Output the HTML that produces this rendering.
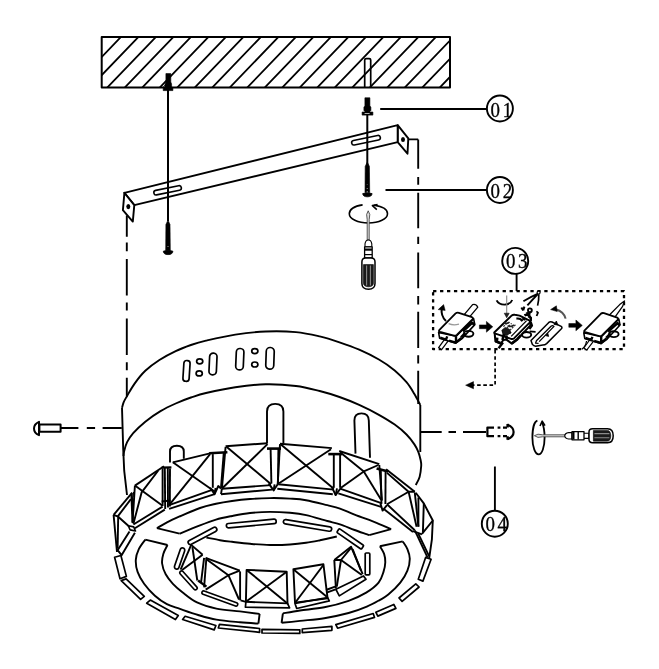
<!DOCTYPE html>
<html><head><meta charset="utf-8"><title>Installation diagram</title>
<style>
html,body{margin:0;padding:0;background:#fff;}
body{width:659px;height:669px;overflow:hidden;font-family:"Liberation Serif",serif;}
svg{display:block;position:absolute;left:0;top:0;will-change:transform;}
text{-webkit-font-smoothing:antialiased;font-smooth:always;}
path,line,ellipse,circle,rect{stroke-linecap:butt;stroke-linejoin:round;}
</style></head>
<body>
<svg width="659" height="669" viewBox="0 0 659 669">
<rect x="0" y="0" width="659" height="669" fill="#fff" stroke="none"/>
<!-- part_top -->
<clipPath id="cl"><rect x="101.7" y="37" width="348.3" height="50.5"/></clipPath>
<path d="M122.8 35L70.4 89.5M140.3 35L87.9 89.5M157.8 35L105.4 89.5M175.3 35L122.9 89.5M192.8 35L140.4 89.5M210.3 35L157.9 89.5M227.8 35L175.4 89.5M245.3 35L192.9 89.5M262.8 35L210.4 89.5M280.3 35L227.9 89.5M297.8 35L245.4 89.5M315.3 35L262.9 89.5M332.8 35L280.4 89.5M350.3 35L297.9 89.5M367.8 35L315.4 89.5M385.3 35L332.9 89.5M402.8 35L350.4 89.5M420.3 35L367.9 89.5M437.8 35L385.4 89.5M455.3 35L402.9 89.5M472.8 35L420.4 89.5M490.3 35L437.9 89.5" stroke="#000" stroke-width="1.8" fill="none" clip-path="url(#cl)"/>
<rect x="101.7" y="37" width="348.3" height="50.5" fill="none" stroke="#000" stroke-width="2"/>
<path d="M364.7 87.4V60Q364.7 58.6 366.2 58.6H369.2Q370.7 58.6 370.7 60V87.4" fill="none" stroke="#000" stroke-width="1.7" />
<path d="M165.9 73.6H170.8V82L171.6 84V87.6H165V84L165.9 82Z" fill="#000" stroke="#000" stroke-width="0.6" />
<path d="M163.2 87.4H172.9V90.6H163.2Z" fill="#000" stroke="#000" stroke-width="0.6" />
<path d="M163.6 86.8L165.4 84.8" fill="none" stroke="#000" stroke-width="1" />
<path d="M168 90L168 221" stroke="#000" stroke-width="2" fill="none" />
<path d="M168 220L170 224.6L170.3 250.4H165.7L165.9 224.6Z" fill="#000" stroke="#000" stroke-width="0.6" />
<path d="M163.3 251.2Q168 249.4 172.9 251.2Q172.6 254.6 168 254.6Q163.6 254.6 163.3 251.2Z" fill="#000" stroke="#000" stroke-width="0.8" />
<path d="M168 226v0.1M168 235v0.1M168 242.4v0.1M168 246.6v0.4" fill="none" stroke="#eee" stroke-width="1.3" stroke-linecap="round"/>
<path d="M124.4 192.8L397.7 125.2V142.2L134.3 205.2Z" fill="#fff" stroke="#000" stroke-width="1.9" />
<path d="M124.4 192.8L122.9 210.2L132.8 221.6L134.3 205.2Z" fill="#fff" stroke="#000" stroke-width="1.9" />
<ellipse cx="128.3" cy="206.6" rx="2" ry="2.6" fill="#000"/>
<path d="M397.9 125.3L408.3 138.3L407.5 153.7L397.9 142.4Z" fill="#fff" stroke="#000" stroke-width="1.9" />
<ellipse cx="403" cy="139.4" rx="2" ry="2.5" fill="#000"/>
<g transform="translate(167.6 190.3) rotate(-11.6)"><rect x="-14" y="-2.3" width="28" height="4.6" rx="2.3" fill="#fff" stroke="#000" stroke-width="1.6"/></g>
<g transform="translate(366 140.2) rotate(-11.6)"><rect x="-14.6" y="-2.3" width="29.2" height="4.6" rx="2.3" fill="#fff" stroke="#000" stroke-width="1.6"/></g>
<path d="M168 150L168 221" stroke="#000" stroke-width="2" fill="none" />
<path d="M364.9 97.8H369.9V106L370.9 107V110.4L369.9 111.4V112.2H364.9V111.4L363.9 110.4V107L364.9 106Z" fill="#000" stroke="#000" stroke-width="0.6" />
<path d="M362.1 112H372.9V115.1H362.1Z" fill="#000" stroke="#000" stroke-width="0.6" />
<path d="M364.6 113.5H369.6" fill="none" stroke="#ddd" stroke-width="0.8" />
<path d="M367.3 115L367.3 170" stroke="#000" stroke-width="2" fill="none" />
<path d="M367.3 162L369.4 166.4L369.7 192.6H365L365.2 166.4Z" fill="#000" stroke="#000" stroke-width="0.6" />
<path d="M362.7 193.6Q367.4 191.8 372.1 193.6Q371.8 196.8 367.4 196.8Q363 196.8 362.7 193.6Z" fill="#000" stroke="#000" stroke-width="0.8" />
<path d="M367.3 167.4v0.1M367.3 177.4v0.1M367.3 184.6v0.1M367.3 188.6v0.4M367.3 191.6v0.6" fill="none" stroke="#eee" stroke-width="1.3" stroke-linecap="round"/>
<path d="M380.2 109L487.5 109" stroke="#000" stroke-width="2" fill="none" />
<path d="M385.5 190L487.5 190" stroke="#000" stroke-width="2" fill="none" />
<circle cx="499.9" cy="108.5" r="13" fill="#fff" stroke="#000" stroke-width="1.9"/>
<text transform="translate(490.6 116.5) scale(0.86 1)" font-size="22" letter-spacing="3.1" text-anchor="start" font-family="Liberation Serif, serif" fill="#000" stroke="#000" stroke-width="0.35" opacity="0.99">01</text>
<circle cx="499.9" cy="190" r="13" fill="#fff" stroke="#000" stroke-width="1.9"/>
<text transform="translate(490.6 198) scale(0.86 1)" font-size="22" letter-spacing="3.1" text-anchor="start" font-family="Liberation Serif, serif" fill="#000" stroke="#000" stroke-width="0.35" opacity="0.99">02</text>
<circle cx="515.2" cy="260.9" r="13" fill="#fff" stroke="#000" stroke-width="1.9"/>
<text transform="translate(505.9 267.9) scale(0.86 1)" font-size="22" letter-spacing="3.1" text-anchor="start" font-family="Liberation Serif, serif" fill="#000" stroke="#000" stroke-width="0.35" opacity="0.99">03</text>
<circle cx="494.8" cy="523.7" r="13" fill="#fff" stroke="#000" stroke-width="1.9"/>
<text transform="translate(485.5 531.3) scale(0.86 1)" font-size="22" letter-spacing="3.1" text-anchor="start" font-family="Liberation Serif, serif" fill="#000" stroke="#000" stroke-width="0.35" opacity="0.99">04</text>
<path d="M126.8 215.5V236.8M126.8 242.6V251.2M126.8 259V295.5M126.8 302.5V310.5M126.8 318.5V355M126.8 362.3V370.2M126.8 377.7V396.2" fill="none" stroke="#000" stroke-width="1.9" />
<path d="M408.3 139.4H418.2M418.2 139.4V168.7M418.2 177.1V184.8M418.2 192.8V228.3M418.2 236.7V244M418.2 252.4V288.3M418.2 295.9V304.5M418.2 311.7V348.1M418.2 355.3V363.6M418.2 370.8V404" fill="none" stroke="#000" stroke-width="1.9" />
<path d="M362.6 204.9C353.6 206 349.3 209.8 349.3 213.7C349.3 218.9 357.8 223 368.4 223C379 223 387.5 218.9 387.5 213.7C387.5 210 383 206.6 374 205.3" fill="none" stroke="#000" stroke-width="1.6" />
<path d="M377.6 204.6L372.4 205.6L376.8 209.6" fill="none" stroke="#000" stroke-width="1.5" />
<path d="M368.2 210.8L369.8 214.5L369.2 219.5V240H367.2V219.5L366.6 214.5Z" fill="#ddd" stroke="#333" stroke-width="0.8" />
<path d="M365 246.8V243.8Q365.6 240 368.4 240Q371.2 240 371.8 243.8V246.8Z" fill="#fff" stroke="#000" stroke-width="1.1" />
<path d="M364.6 246.8h7.6v11.2h-7.6z" fill="#fff" stroke="#000" stroke-width="1.3" />
<path d="M364.8 249.6L372 249.6" stroke="#000" stroke-width="2.2" fill="none" />
<path d="M364.8 254.6L372 254.6" stroke="#000" stroke-width="1.2" fill="none" />
<path d="M361.9 262Q361.9 258 365.6 258H371.2Q375 258 375 262V283.6Q375 289.3 368.5 289.3Q361.9 289.3 361.9 283.6Z" fill="#fff" stroke="#000" stroke-width="1.5" />
<path d="M363.5 264.6H373.4V283.6Q373.2 286.6 368.5 286.8Q363.7 286.6 363.5 283.6Z" fill="#1a1a1a" stroke="#000" stroke-width="0.6" />
<path d="M366.6 265.6V285.4M370.4 265.6V285.4" fill="none" stroke="#8a8a8a" stroke-width="1.1" />
<!-- part_box -->
<rect x="433.1" y="291.2" width="190.9" height="58" fill="none" stroke="#000" stroke-width="2.3" stroke-dasharray="3.3 3.65"/>
<path d="M516.6 273.6L516.6 291" stroke="#000" stroke-width="1.9" fill="none" />
<path d="M495.1 350V385.2H472" fill="none" stroke="#000" stroke-width="1.7" stroke-dasharray="3.6 2.6"/>
<path d="M465.6 385.2L473.5 381.6V388.8Z" fill="#000" stroke="#000" stroke-width="0.5" />
<g transform="translate(0 0)">
<path d="M464.2 314.6L472.6 304.6Q476 303.6 477.8 307.2L469.4 317.2" fill="#fff" stroke="#000" stroke-width="1.3" />
<path d="M444.4 339.6L438.6 347.6L441.6 349.6L448 341.2" fill="#fff" stroke="#000" stroke-width="1.2" />
<path d="M438.6 332.4L439.6 338.2L455.8 343.2L462 338.6L474.8 324.6L473.6 318.6L456.2 336.2Z" fill="#fff" stroke="#000" stroke-width="1.6" />
<path d="M440.2 337.6L446 339.6L447.2 336.4M449 340.6L455.8 342.6L461.4 338M456 336.4V342" fill="none" stroke="#000" stroke-width="2.4" />
<path d="M462.8 331.2L472.2 322.8L474.6 325M461 337.4L465.4 333" fill="none" stroke="#000" stroke-width="2.6" />
<ellipse cx="468.6" cy="333.8" rx="4.8" ry="2.9" fill="none" stroke="#000" stroke-width="1.9"/>
<path d="M439.2 330.2L455.6 313.4Q457 312.2 458.8 312.8L472 317.2Q473.6 318 472.4 319.4L456.8 335Q455.6 336 454 335.6L440 331.8Q438.4 331.2 439.2 330.2Z" fill="#fff" stroke="#000" stroke-width="1.8" />
</g>
<path d="M448.6 323.6Q453 325.6 459 324.2" fill="none" stroke="#999" stroke-width="1.2" />
<path d="M446 321Q440.6 316 441.8 308" fill="none" stroke="#000" stroke-width="2" />
<path d="M438.2 309.6L443.6 304.6L445.2 310.4Z" fill="#000" stroke="#000" stroke-width="0.5" />
<path d="M479.4 324.9H486.4V321.4L492.8 326.8L486.4 332.2V328.7H479.4Z" fill="#000" stroke="#000" stroke-width="0.5" />
<path d="M568.8 323.5H575.9V320L582.3 325.4L575.9 330.8V327.3H568.8Z" fill="#000" stroke="#000" stroke-width="0.5" />
<g transform="translate(145.2 0.4)">
<path d="M464.2 314.6L474.5 304.2L479.3 300.5L477.4 306L469.4 317.2" fill="#fff" stroke="#000" stroke-width="1.3" />
<path d="M444.4 339.6L438.6 347.6L441.6 349.6L448 341.2" fill="#fff" stroke="#000" stroke-width="1.2" />
<path d="M438.6 332.4L439.6 338.2L455.8 343.2L462 338.6L474.8 324.6L473.6 318.6L456.2 336.2Z" fill="#fff" stroke="#000" stroke-width="1.6" />
<path d="M440.2 337.6L446 339.6L447.2 336.4M449 340.6L455.8 342.6L461.4 338M456 336.4V342" fill="none" stroke="#000" stroke-width="2.4" />
<path d="M462.8 331.2L472.2 322.8L474.6 325M461 337.4L465.4 333" fill="none" stroke="#000" stroke-width="2.6" />
<ellipse cx="468.6" cy="333.8" rx="4.8" ry="2.9" fill="none" stroke="#000" stroke-width="1.9"/>
<path d="M439.2 330.2L455.6 313.4Q457 312.2 458.8 312.8L472 317.2Q473.6 318 472.4 319.4L456.8 335Q455.6 336 454 335.6L440 331.8Q438.4 331.2 439.2 330.2Z" fill="#fff" stroke="#000" stroke-width="1.8" />
</g>
<path d="M586.6 341Q585.6 346.6 581.6 349.4" fill="none" stroke="#000" stroke-width="1.3" />
<path d="M494.6 332.4L495.4 341.4L500.6 343.6L503.4 340L506.4 339.6L511.8 343.6L517.2 339.4L530.4 325.4L529.9 321.2" fill="#fff" stroke="#000" stroke-width="2" stroke-linejoin="round"/>
<path d="M494.5 332.2L511.8 315.4Q513 314.4 514.8 314.8L519.6 315.6L529.6 320.6Q530.6 321.4 529.6 322.6L514 338.4Q512.6 339.4 511 338.8L495.4 333.6Q493.8 333 494.5 332.2Z" fill="#fff" stroke="#000" stroke-width="1.9" />
<path d="M511.2 336.4L526.6 320.6" fill="none" stroke="#000" stroke-width="1.3" />
<path d="M503.4 326.6L507.4 322.6M506.6 328.4L511.6 323.4M509.8 330.4L515.6 324.6" fill="none" stroke="#333" stroke-width="1.3" stroke-dasharray="2 1"/>
<path d="M516.4 318.6Q520.6 318 522.4 321.2" fill="none" stroke="#000" stroke-width="2.2" />
<path d="M502.4 331.6Q505.6 329.6 507.6 332.6Q505.8 335.4 503.6 334.6M508.4 331L510.8 333.4" fill="none" stroke="#000" stroke-width="2.3" />
<circle cx="504.6" cy="331.6" r="1.5" fill="none" stroke="#000" stroke-width="1.5"/>
<path d="M503.8 334L502.4 340M506.6 336V339.6" fill="none" stroke="#000" stroke-width="2.4" />
<path d="M495.6 341.2L500.4 343M497.2 337.6L496.8 342.6" fill="none" stroke="#000" stroke-width="2.6" />
<path d="M511.8 343.4L517.4 339.2L521 335.2" fill="none" stroke="#000" stroke-width="2.6" />
<path d="M501.8 330.2L505.2 327.4L509.4 329.2L510.6 332.6L507 335.6L503 334.4Z" fill="#1a1a1a" stroke="#000" stroke-width="0.6" />
<path d="M503.6 322.6Q506 324.6 509.6 322.2M507.6 325.6Q510.6 327.6 514 325" fill="none" stroke="#222" stroke-width="1.6" />
<path d="M524.4 315.4Q527.4 313.6 529.8 316.4Q531.6 318.4 530.8 321" fill="none" stroke="#000" stroke-width="2.4" />
<path d="M522.2 318.4L525.4 319.8" fill="none" stroke="#000" stroke-width="2.2" />
<ellipse cx="526.6" cy="334.8" rx="4.6" ry="2.8" fill="none" stroke="#000" stroke-width="1.9"/>
<path d="M529.6 331.4L535.6 331.8" fill="none" stroke="#000" stroke-width="1.8" />
<path d="M503 342.6L498.6 348.2" fill="none" stroke="#000" stroke-width="2.4" />
<circle cx="529.9" cy="310.3" r="1.9" fill="#fff" stroke="#000" stroke-width="1.9"/>
<path d="M521.4 307.4L523.2 310.4M524.4 306.6L523.2 310.4" fill="none" stroke="#000" stroke-width="2" />
<path d="M526.2 313.4Q528.6 312.4 530.2 314.6M528.4 316.4L531.4 318.4" fill="none" stroke="#000" stroke-width="2.2" />
<path d="M536.4 311.4L538 312.6L536.6 316" fill="none" stroke="#000" stroke-width="1.8" />
<path d="M530.6 321.6L532 325.6L529.4 329" fill="none" stroke="#000" stroke-width="2.2" />
<path d="M496.6 300.4Q498.6 304.6 504.6 304.6Q510.6 304.4 512.2 300" fill="none" stroke="#000" stroke-width="1.9" />
<path d="M506.7 295.6V314" fill="none" stroke="#888" stroke-width="1.1" />
<path d="M504.2 313.2L506.7 317.8L509.2 313.2Z" fill="#222" stroke="#000" stroke-width="0.5" />
<circle cx="538.6" cy="292.6" r="1.5" fill="#fff" stroke="#000" stroke-width="1.2"/>
<path d="M537.6 293.8Q531 296.6 523.4 301.2M537.8 294.2Q532.6 299.6 527.4 305.4" fill="none" stroke="#000" stroke-width="1.9" />
<path d="M538.8 294.2Q539 299.6 537.6 305.6" fill="none" stroke="#000" stroke-width="1.7" />
<path d="M531 340.6L548.8 322.4Q550.2 321.2 552 322L561.2 326.4Q562.6 327.4 561.4 328.8L546.6 343.6Q545 345 542.8 345L535.6 346.2Q533.6 346 532.4 344.4Z" fill="#fff" stroke="#000" stroke-width="1.5" />
<path d="M536.4 340.8L551 326.2Q552.6 325 554 326.4L539.2 341.6M536.4 340.8L535.6 343.2L538.6 343.4" fill="none" stroke="#000" stroke-width="1.3" />
<path d="M545.6 335.6l2.2-2.4l0.8 3.2zM556.4 321l1.4 4l-3.8-0.6z" fill="#000" stroke="#000" stroke-width="0.8" />
<path d="M565.6 318.6Q564 311.6 555.6 309.2" fill="none" stroke="#555" stroke-width="2" />
<path d="M550.6 309.6L556.4 305.8L557.2 311.6Z" fill="#000" stroke="#000" stroke-width="0.5" />
<!-- part_lamp -->
<path d="M122 407.8C122.3 406.9 122.8 404.4 123.6 402.4C124.4 400.4 125.3 399 127.1 395.9C128.9 392.8 131.6 387.8 134.6 383.6C137.6 379.4 141.2 374.7 145.3 370.8C149.4 366.9 154.3 363.3 159.4 360C164.5 356.7 170.4 353.6 175.7 351.1C180.9 348.6 185.8 346.8 190.9 345C196 343.2 198.6 342.3 206 340.6C213.4 338.9 225.4 336.1 235.3 334.6C245.2 333.1 255.6 331.9 265.7 331.5C275.8 331.1 287 331.3 296 332.1C305 332.9 312.4 334.7 319.7 336.4C326.9 338.1 332.9 340.1 339.5 342.3C346.1 344.5 352.6 346.8 359.2 349.7C365.8 352.6 373 356.1 378.9 359.5C384.8 362.9 390.1 366.6 394.7 370.4C399.3 374.2 403.2 378.3 406.5 382.2C409.8 386.1 412.1 390.2 414.4 394C416.7 397.8 419.3 403.1 420.3 404.9" fill="none" stroke="#000" stroke-width="1.9" />
<path d="M123.5 456C123.6 455.2 123.6 453.3 124.2 451C124.8 448.7 125.6 445.2 127.1 442.2C128.6 439.2 130.2 436.5 133.2 433.1C136.2 429.7 140.8 425.4 145.3 421.7C149.9 418 155.4 414.1 160.5 411.1C165.6 408.1 170.6 405.8 175.7 403.5C180.8 401.2 185.8 399.2 190.9 397.5C196 395.8 198.6 394.7 206 393C213.4 391.3 225.4 388.6 235.3 387.2C245.2 385.8 255.6 384.5 265.7 384.3C275.8 384.1 287 384.9 296 386C305 387.1 312.4 389.2 319.7 391C326.9 392.8 332.9 394.7 339.5 397C346.1 399.3 352.6 401.9 359.2 404.9C365.8 407.9 373 411.5 378.9 414.8C384.8 418.1 390.1 421.3 394.7 424.6C399.3 427.9 403.2 431.2 406.5 434.5C409.8 437.8 412.4 441.4 414.4 444.4C416.4 447.3 417.4 449.6 418.4 452.2C419.4 454.8 420.1 457.7 420.6 460C421.1 462.3 421.4 463.2 421.2 466C421 468.8 420.5 473.8 419.6 477C418.7 480.2 416.4 483.7 415.7 485" fill="none" stroke="#000" stroke-width="1.9" />
<path d="M122 407.8L123.2 449L124.2 470.7L127 495" fill="none" stroke="#000" stroke-width="1.9" />
<path d="M420.3 404.9V452" fill="none" stroke="#000" stroke-width="1.9" />
<g transform="translate(186.5 370.9) rotate(3.6)"><rect x="-3.1" y="-10.4" width="6.2" height="20.8" rx="2.9" fill="#fff" stroke="#000" stroke-width="1.7"/></g>
<g transform="translate(213 364) rotate(2.5)"><rect x="-3.7" y="-10.9" width="7.4" height="21.8" rx="3.5" fill="#fff" stroke="#000" stroke-width="1.7"/></g>
<g transform="translate(239.8 359.2) rotate(2.5)"><rect x="-3.8" y="-10.7" width="7.6" height="21.4" rx="3.6" fill="#fff" stroke="#000" stroke-width="1.7"/></g>
<g transform="translate(270 358.3) rotate(2)"><rect x="-4" y="-10.8" width="8" height="21.6" rx="3.8" fill="#fff" stroke="#000" stroke-width="1.7"/></g>
<ellipse cx="199.7" cy="361.3" rx="3.1" ry="2.5" fill="#fff" stroke="#000" stroke-width="1.7"/>
<ellipse cx="199.2" cy="373.4" rx="3.1" ry="2.5" fill="#fff" stroke="#000" stroke-width="1.7"/>
<ellipse cx="254.8" cy="351.1" rx="3.1" ry="2.5" fill="#fff" stroke="#000" stroke-width="1.7"/>
<ellipse cx="254.8" cy="364.5" rx="3.1" ry="2.5" fill="#fff" stroke="#000" stroke-width="1.7"/>
<path d="M170 462.5V451.5Q170 445.7 176.9 445.7Q183.8 445.7 183.8 451.5V458.8" fill="none" stroke="#000" stroke-width="1.9" />
<path d="M267 443.2V411.5Q267 403.9 275.2 403.9Q283.4 403.9 283.4 411.5V443.2" fill="none" stroke="#000" stroke-width="1.9" />
<path d="M355.5 453.6L354.4 420.5Q354.4 413.4 361.5 413.4Q368.6 413.4 368.8 420.5L370 457.8" fill="none" stroke="#000" stroke-width="1.9" />
<path d="M113.6 514.9L132.2 492.6" fill="none" stroke="#000" stroke-width="1.9" stroke-linejoin="round"/>
<path d="M117.8 516.3L130.9 499.2" fill="none" stroke="#000" stroke-width="1.9" stroke-linejoin="round"/>
<path d="M113.6 514.9L117 552" fill="none" stroke="#000" stroke-width="1.9" stroke-linejoin="round"/>
<path d="M113.6 514.9L118.2 516.7L128.9 526.3" fill="none" stroke="#000" stroke-width="1.9" stroke-linejoin="round"/>
<path d="M118.2 516.7L117.6 548.4" fill="none" stroke="#000" stroke-width="1.9" stroke-linejoin="round"/>
<path d="M129.5 531.4L117.6 550.2L121.6 555.2L134.9 532.8" fill="none" stroke="#000" stroke-width="1.9" stroke-linejoin="round"/>
<path d="M128.3 525.7L133.7 526.9L135.5 531L130.1 529.9Z" fill="#fff" stroke="#000" stroke-width="1.6" />
<path d="M131.6 493.4L132.7 522.3" fill="none" stroke="#000" stroke-width="2.4" stroke-linejoin="round"/>
<path d="M133.6 492L134.2 497" fill="none" stroke="#000" stroke-width="1.5" stroke-linejoin="round"/>
<path d="M134.9 485.6L164 466.2" fill="none" stroke="#000" stroke-width="1.9" stroke-linejoin="round"/>
<path d="M134.9 485.6L162.6 505.8" fill="none" stroke="#000" stroke-width="1.9" stroke-linejoin="round"/>
<path d="M158.1 470.7L141.6 492.4L133.4 523.8" fill="none" stroke="#000" stroke-width="1.9" stroke-linejoin="round"/>
<path d="M134.9 485.6L132.5 523" fill="none" stroke="#000" stroke-width="1.9" stroke-linejoin="round"/>
<path d="M133.4 524.5L162.6 506.6" fill="none" stroke="#000" stroke-width="1.9" stroke-linejoin="round"/>
<path d="M134.9 528.2L164.8 509.6" fill="none" stroke="#000" stroke-width="1.9" stroke-linejoin="round"/>
<path d="M162.6 468.5L162.6 506" fill="none" stroke="#000" stroke-width="1.9" stroke-linejoin="round"/>
<path d="M164.8 467.4L165.2 509" fill="none" stroke="#000" stroke-width="1.9" stroke-linejoin="round"/>
<path d="M167.8 467.4L168 507.5" fill="none" stroke="#000" stroke-width="1.9" stroke-linejoin="round"/>
<path d="M170 468.5L169.8 506.5" fill="none" stroke="#000" stroke-width="1.9" stroke-linejoin="round"/>
<path d="M161.6 467.6L171.4 467.4" fill="none" stroke="#000" stroke-width="2.2" stroke-linejoin="round"/>
<path d="M161.6 501.6L170.6 500.6" fill="none" stroke="#000" stroke-width="2" stroke-linejoin="round"/>
<path d="M172.8 462.3L211 453.2" fill="none" stroke="#000" stroke-width="1.9" stroke-linejoin="round"/>
<path d="M172.8 462.3L214.6 491.5" fill="none" stroke="#000" stroke-width="1.9" stroke-linejoin="round"/>
<path d="M210.1 454.1L169.1 505.1" fill="none" stroke="#000" stroke-width="1.9" stroke-linejoin="round"/>
<path d="M169.1 505.1L212.8 489.6" fill="none" stroke="#000" stroke-width="1.9" stroke-linejoin="round"/>
<path d="M169.1 508.8L214.6 494.2" fill="none" stroke="#000" stroke-width="1.9" stroke-linejoin="round"/>
<path d="M212.8 454.1L212.8 487.8" fill="none" stroke="#000" stroke-width="1.9" stroke-linejoin="round"/>
<path d="M223.8 452.3L221 487.8" fill="none" stroke="#000" stroke-width="1.9" stroke-linejoin="round"/>
<path d="M209.2 453.2L227.4 452.3" fill="none" stroke="#000" stroke-width="2.6" stroke-linejoin="round"/>
<path d="M210.1 487.8L214.6 494.2L218.3 486L221 488.6" fill="none" stroke="#000" stroke-width="1.9" stroke-linejoin="round"/>
<path d="M214.6 494.2L215.6 488" fill="none" stroke="#000" stroke-width="1.9" stroke-linejoin="round"/>
<path d="M225.6 446.3L267.5 443.2" fill="none" stroke="#000" stroke-width="1.9" stroke-linejoin="round"/>
<path d="M226.5 446.8L271.1 484.2" fill="none" stroke="#000" stroke-width="1.9" stroke-linejoin="round"/>
<path d="M267.5 444.1L222.8 487.8" fill="none" stroke="#000" stroke-width="1.9" stroke-linejoin="round"/>
<path d="M225.6 446.8L221.9 488.7" fill="none" stroke="#000" stroke-width="1.9" stroke-linejoin="round"/>
<path d="M221.9 488.7L271.1 485.1" fill="none" stroke="#000" stroke-width="1.9" stroke-linejoin="round"/>
<path d="M221 494.2L272 489.6" fill="none" stroke="#000" stroke-width="1.9" stroke-linejoin="round"/>
<path d="M221.9 488.7L221 494.2" fill="none" stroke="#000" stroke-width="1.9" stroke-linejoin="round"/>
<path d="M270.6 448.7L271.4 483.5" fill="none" stroke="#000" stroke-width="1.9" stroke-linejoin="round"/>
<path d="M278.4 448.7L278 484" fill="none" stroke="#000" stroke-width="1.9" stroke-linejoin="round"/>
<path d="M267 448.6L281 448.6" fill="none" stroke="#000" stroke-width="2.6" stroke-linejoin="round"/>
<path d="M268.6 483.4L273.6 490.4L278.2 483.4" fill="none" stroke="#000" stroke-width="1.9" stroke-linejoin="round"/>
<path d="M273.6 490.4L274.6 484.4" fill="none" stroke="#000" stroke-width="1.9" stroke-linejoin="round"/>
<path d="M280 443.7L331.9 448.1" fill="none" stroke="#000" stroke-width="1.9" stroke-linejoin="round"/>
<path d="M280.9 444.5L333.8 488.7" fill="none" stroke="#000" stroke-width="1.9" stroke-linejoin="round"/>
<path d="M331 449.2L279.1 483.3" fill="none" stroke="#000" stroke-width="1.9" stroke-linejoin="round"/>
<path d="M280 444.1L277.7 484.2" fill="none" stroke="#000" stroke-width="1.9" stroke-linejoin="round"/>
<path d="M278.2 484.2L333.8 489.6" fill="none" stroke="#000" stroke-width="1.9" stroke-linejoin="round"/>
<path d="M277.3 488.7L332.8 494.2" fill="none" stroke="#000" stroke-width="1.9" stroke-linejoin="round"/>
<path d="M333.8 454.1L333.8 487.8" fill="none" stroke="#000" stroke-width="1.9" stroke-linejoin="round"/>
<path d="M340.1 454.1L340.1 487.8" fill="none" stroke="#000" stroke-width="1.9" stroke-linejoin="round"/>
<path d="M328.3 454.1L342 454.1" fill="none" stroke="#000" stroke-width="2.6" stroke-linejoin="round"/>
<path d="M331.9 487L335.6 495.1L341 487.8" fill="none" stroke="#000" stroke-width="1.9" stroke-linejoin="round"/>
<path d="M335.6 495.1L337 488.4" fill="none" stroke="#000" stroke-width="1.9" stroke-linejoin="round"/>
<path d="M339.2 451L379.3 464.1" fill="none" stroke="#000" stroke-width="1.9" stroke-linejoin="round"/>
<path d="M340.1 452.3L363.8 471.4L378.4 465" fill="none" stroke="#000" stroke-width="1.9" stroke-linejoin="round"/>
<path d="M363.8 471.4L381.1 499.7" fill="none" stroke="#000" stroke-width="1.9" stroke-linejoin="round"/>
<path d="M363.8 471.4L341 487.8" fill="none" stroke="#000" stroke-width="1.9" stroke-linejoin="round"/>
<path d="M379.3 465L382 500.6" fill="none" stroke="#000" stroke-width="1.9" stroke-linejoin="round"/>
<path d="M340.1 488.7L382 503.3" fill="none" stroke="#000" stroke-width="1.9" stroke-linejoin="round"/>
<path d="M338.3 493.3L381.1 506.9" fill="none" stroke="#000" stroke-width="1.9" stroke-linejoin="round"/>
<path d="M380.8 469.3L381.4 504" fill="none" stroke="#000" stroke-width="1.9" stroke-linejoin="round"/>
<path d="M385.6 470.5L385.4 504" fill="none" stroke="#000" stroke-width="1.9" stroke-linejoin="round"/>
<path d="M376.6 468.4L388.2 471.4" fill="none" stroke="#000" stroke-width="2.6" stroke-linejoin="round"/>
<path d="M380.4 503.4L382.6 510.6L387 505.2" fill="none" stroke="#000" stroke-width="1.9" stroke-linejoin="round"/>
<path d="M386.1 469.3L414.8 491.8" fill="none" stroke="#000" stroke-width="1.9" stroke-linejoin="round"/>
<path d="M387 472.9L408.6 491.8L414.8 491.8" fill="none" stroke="#000" stroke-width="1.9" stroke-linejoin="round"/>
<path d="M408.6 491.8L387 504.3" fill="none" stroke="#000" stroke-width="1.9" stroke-linejoin="round"/>
<path d="M408.6 491.8L416.6 526.7" fill="none" stroke="#000" stroke-width="1.9" stroke-linejoin="round"/>
<path d="M414.8 492.7L418.4 526.7" fill="none" stroke="#000" stroke-width="1.9" stroke-linejoin="round"/>
<path d="M387 504.3L414.8 530.3" fill="none" stroke="#000" stroke-width="1.9" stroke-linejoin="round"/>
<path d="M383.5 508.8L413 532.1" fill="none" stroke="#000" stroke-width="1.9" stroke-linejoin="round"/>
<path d="M415.7 492.7L423.8 503.4L432.8 520.5L422 533.9" fill="none" stroke="#000" stroke-width="1.9" stroke-linejoin="round"/>
<path d="M418.4 497.5L418.4 526.7" fill="none" stroke="#000" stroke-width="1.9" stroke-linejoin="round"/>
<path d="M423.8 503.4L422.9 532.1" fill="none" stroke="#000" stroke-width="1.9" stroke-linejoin="round"/>
<path d="M432.8 520.5L431.9 539.3L429.2 558.2" fill="none" stroke="#000" stroke-width="1.9" stroke-linejoin="round"/>
<path d="M414.8 530.3L427.4 557.2" fill="none" stroke="#000" stroke-width="1.9" stroke-linejoin="round"/>
<path d="M418.4 533.9L429.2 556.4" fill="none" stroke="#000" stroke-width="1.9" stroke-linejoin="round"/>
<path d="M413 531.2L422 534.4" fill="none" stroke="#000" stroke-width="1.9" stroke-linejoin="round"/>
<path d="M156.9 528.2C158.6 527.2 163.2 524.3 167 522.3C170.8 520.3 174.1 518.8 179.6 516.4C185.1 514 193.9 510.1 200 508C206.1 505.9 210.7 505 216 503.8C221.3 502.6 226.3 501.8 232 501C237.7 500.2 243.7 499.5 250 499C256.3 498.5 263.3 498.2 270 498.1C276.7 498 284 498.2 290 498.6C296 499 299.8 499.1 306 500.2C312.2 501.3 321.6 503.8 327.3 505.2C333 506.6 335.4 507 340 508.6C344.6 510.2 348.5 512.2 354.6 514.6C360.7 517 370.4 520.4 376.5 522.8C382.6 525.2 388.7 528.1 391.1 529.2" fill="none" stroke="#000" stroke-width="1.9" />
<path d="M369.2 535.2C366.8 534.3 359.5 531.8 354.6 530C349.7 528.2 344.6 525.9 340 524.4C335.4 522.9 332.9 522.5 327.3 521C321.7 519.5 312.4 516.5 306.2 515.1C300 513.7 296 513.3 290 512.8C284 512.3 276.8 511.9 270.1 511.9C263.4 511.9 256.4 512.3 250 513C243.7 513.7 237.7 514.9 232 516C226.3 517.1 221.3 518 216 519.6C210.7 521.2 206.1 523 200 525.4C193.9 527.8 183 532.3 179.6 533.7" fill="none" stroke="#000" stroke-width="1.9" />
<path d="M391.1 529.2L369.2 535.2" fill="none" stroke="#000" stroke-width="1.9" stroke-linejoin="round"/>
<path d="M156.9 528.2L179.6 533.7" fill="none" stroke="#000" stroke-width="1.9" stroke-linejoin="round"/>
<path d="M206.4 537.6C208.7 538 215.7 539.5 220 540.2C224.3 540.9 227 541.2 232 541.8C237 542.4 243.7 543.3 250 543.8C256.3 544.3 263.3 544.9 270 545C276.7 545.1 284 544.9 290 544.5C296 544.1 301 543.5 306 542.8C311 542.1 314.9 541.3 320 540.3C325.1 539.2 334 537.1 336.8 536.5" fill="none" stroke="#000" stroke-width="1.9" />
<g transform="translate(188.4 543.4) rotate(-28.01)"><rect x="0" y="-2.2" width="31.9" height="4.4" rx="2.2" fill="#fff" stroke="#000" stroke-width="1.7"/></g>
<g transform="translate(226.4 525.9) rotate(-5.39)"><rect x="0" y="-2.2" width="50" height="4.4" rx="2.2" fill="#fff" stroke="#000" stroke-width="1.7"/></g>
<g transform="translate(283.4 521.4) rotate(9.42)"><rect x="0" y="-2.2" width="48.9" height="4.4" rx="2.2" fill="#fff" stroke="#000" stroke-width="1.7"/></g>
<g transform="translate(338 530.4) rotate(34.65)"><rect x="0" y="-2.3" width="29.9" height="4.6" rx="1" fill="#fff" stroke="#000" stroke-width="1.7"/></g>
<g transform="translate(183.2 548) rotate(108.92)"><rect x="0" y="-2.3" width="22.2" height="4.6" rx="2.3" fill="#fff" stroke="#000" stroke-width="1.7"/></g>
<g transform="translate(367.5 553) rotate(90.00)"><rect x="0" y="-2.3" width="21.8" height="4.6" rx="1" fill="#fff" stroke="#000" stroke-width="1.7"/></g>
<path d="M145.3 539.6C144.2 541.2 140.4 545.7 138.8 549.1C137.2 552.5 136 556.1 135.8 559.9C135.6 563.7 136.2 567.9 137.6 571.9C139 575.9 141.2 579.8 144.1 583.8C147 587.8 151.1 592.4 154.9 595.8C158.7 599.2 162.7 602 166.9 604.2C171.1 606.4 174.8 607.1 180 608.9C185.2 610.7 192.1 613.2 198.2 615C204.3 616.8 209.4 618.4 216.4 619.6C223.4 620.8 233 621.6 240 622.3C247 623 255.3 623.4 258.4 623.6" fill="none" stroke="#000" stroke-width="1.9" />
<path d="M259.6 613.9C256.3 613.5 247.2 612.3 240 611.4C232.8 610.5 223.6 610.1 216.4 608.6C209.2 607.1 202.7 605.1 197 602.4C191.3 599.7 186.4 595.3 182.4 592.2C178.4 589.1 175.7 586.8 172.9 583.8C170.1 580.8 167.5 577.7 165.7 574.3C163.9 570.9 162.5 566.9 162.1 563.5C161.7 560.1 162.4 557 163.3 553.9C164.2 550.8 166.8 546.5 167.5 545" fill="none" stroke="#000" stroke-width="1.9" />
<path d="M145.3 539.6L167.5 545" fill="none" stroke="#000" stroke-width="1.9" stroke-linejoin="round"/>
<path d="M258.4 623.6L259.6 613.9" fill="none" stroke="#000" stroke-width="1.9" stroke-linejoin="round"/>
<path d="M402.7 541.4C403.5 542.7 406.2 546.2 407.4 549.1C408.6 552 409.8 555.1 409.8 558.7C409.8 562.3 409 566.7 407.4 570.7C405.8 574.7 403.5 578.7 400.3 582.7C397.1 586.7 391.7 591.8 388.3 594.6C384.9 597.5 383.6 597.8 380 599.8C376.4 601.8 372 604.4 366.8 606.6C361.6 608.8 355.7 611.1 348.6 613C341.5 614.9 332.4 616.9 324.3 618.2C316.2 619.5 307.1 620.1 300 620.9C292.9 621.7 284.7 622.5 281.6 622.8" fill="none" stroke="#000" stroke-width="1.9" />
<path d="M282.9 613.4C285.8 612.9 293.1 611.5 300 610.5C306.9 609.5 316.2 608.9 324.3 607.3C332.4 605.7 341.6 603.2 348.6 600.8C355.6 598.3 361.2 595.6 366.2 592.6C371.2 589.6 375.7 586.1 378.6 582.6C381.5 579.1 382.4 575.3 383.5 571.9C384.6 568.5 385.2 565.3 385.3 562.3C385.4 559.3 385 556.6 384.1 553.9C383.2 551.2 380.6 547.5 379.9 546.2" fill="none" stroke="#000" stroke-width="1.9" />
<path d="M402.7 541.4L379.9 546.2" fill="none" stroke="#000" stroke-width="1.9" stroke-linejoin="round"/>
<path d="M281.6 622.8L282.9 613.4" fill="none" stroke="#000" stroke-width="1.9" stroke-linejoin="round"/>
<path d="M114.6 557.3L120.9 555.5L126.4 576.4L120 578.8Z" fill="#fff" stroke="#000" stroke-width="1.7" stroke-linejoin="round"/>
<path d="M121.2 580.6L126.1 578.9L144.3 596.4L140.6 599.3Z" fill="#fff" stroke="#000" stroke-width="1.7" stroke-linejoin="round"/>
<path d="M146.7 603.2L150.3 600.1L178.3 615.4L175.4 619.5Z" fill="#fff" stroke="#000" stroke-width="1.7" stroke-linejoin="round"/>
<path d="M182.6 619.5L185.1 616.3L215.9 625.5L214.2 629.9Z" fill="#fff" stroke="#000" stroke-width="1.7" stroke-linejoin="round"/>
<path d="M218.3 628L219.5 624.3L259.6 628.5L259.6 632.3Z" fill="#fff" stroke="#000" stroke-width="1.7" stroke-linejoin="round"/>
<path d="M262 629.4L299.8 629.8L299.8 633.4L262 633Z" fill="#fff" stroke="#000" stroke-width="1.7" stroke-linejoin="round"/>
<path d="M302.3 629L331.9 626.4L331.9 630.3L302.3 632.6Z" fill="#fff" stroke="#000" stroke-width="1.7" stroke-linejoin="round"/>
<path d="M335.8 624.6L373.2 613.5L374.5 617.4L337.6 628.2Z" fill="#fff" stroke="#000" stroke-width="1.7" stroke-linejoin="round"/>
<path d="M375.8 612.2L393.8 604.5L395.9 608.4L377.8 616.1Z" fill="#fff" stroke="#000" stroke-width="1.7" stroke-linejoin="round"/>
<path d="M399 598L415.8 583.9L419.1 587L402.1 601.4Z" fill="#fff" stroke="#000" stroke-width="1.7" stroke-linejoin="round"/>
<path d="M425.6 557.4L431.1 559.3L422.9 581.1L418.3 579.3Z" fill="#fff" stroke="#000" stroke-width="1.7" stroke-linejoin="round"/>
<path d="M191.2 544.9L202.6 554.7" fill="none" stroke="#000" stroke-width="1.9" stroke-linejoin="round"/>
<path d="M191.2 544.9L180.6 569.6" fill="none" stroke="#000" stroke-width="1.9" stroke-linejoin="round"/>
<path d="M202.6 554.7L182.1 570" fill="none" stroke="#000" stroke-width="1.9" stroke-linejoin="round"/>
<path d="M192.4 547L197.3 580.5" fill="none" stroke="#000" stroke-width="1.9" stroke-linejoin="round"/>
<g transform="translate(180.4 571.4) rotate(48.01)"><rect x="0" y="-1.8" width="24.2" height="3.6" rx="1.8" fill="#fff" stroke="#000" stroke-width="1.6"/></g>
<path d="M204.1 557.8L201.1 582" fill="none" stroke="#000" stroke-width="1.9" stroke-linejoin="round"/>
<path d="M206.4 557.8L204.1 587.4" fill="none" stroke="#000" stroke-width="1.9" stroke-linejoin="round"/>
<path d="M198.1 580.5L206.4 586.6" fill="none" stroke="#000" stroke-width="2.4" stroke-linejoin="round"/>
<path d="M205.7 557.8L239.8 570.7" fill="none" stroke="#000" stroke-width="1.9" stroke-linejoin="round"/>
<path d="M206.4 559.3L228.4 575.2L239.8 570.7" fill="none" stroke="#000" stroke-width="1.9" stroke-linejoin="round"/>
<path d="M228.4 575.2L239 599.5" fill="none" stroke="#000" stroke-width="1.9" stroke-linejoin="round"/>
<path d="M228.4 575.2L205.7 589.6" fill="none" stroke="#000" stroke-width="1.9" stroke-linejoin="round"/>
<path d="M240.1 571.4L240.1 600.3" fill="none" stroke="#000" stroke-width="1.9" stroke-linejoin="round"/>
<g transform="translate(202 592) rotate(19.92)"><rect x="0" y="-1.7" width="37.9" height="3.4" rx="1.7" fill="#fff" stroke="#000" stroke-width="1.6"/></g>
<path d="M240.6 600.3L245.9 601.8" fill="none" stroke="#000" stroke-width="1.9" stroke-linejoin="round"/>
<path d="M246.6 569.9L286.7 571.7L287.5 603.4L245.9 601.8Z" fill="none" stroke="#000" stroke-width="1.9" />
<path d="M246.6 569.9L287.5 603.4" fill="none" stroke="#000" stroke-width="1.9" stroke-linejoin="round"/>
<path d="M286.7 571.7L245.9 601.8" fill="none" stroke="#000" stroke-width="1.9" stroke-linejoin="round"/>
<path d="M245.9 601.8L245.4 607.2L289.6 607.8L287.5 603.4" fill="none" stroke="#000" stroke-width="1.7" stroke-linejoin="round"/>
<path d="M293.4 569.2L323.4 564.2L327.6 598.4L295 602.6Z" fill="none" stroke="#000" stroke-width="1.9" />
<path d="M294.2 570L326.8 596.8" fill="none" stroke="#000" stroke-width="1.9" stroke-linejoin="round"/>
<path d="M323.4 565L295.9 601.8" fill="none" stroke="#000" stroke-width="1.9" stroke-linejoin="round"/>
<path d="M295 603.4L327.6 597.6L329.3 600.9L296.7 608.5Z" fill="none" stroke="#000" stroke-width="1.7" />
<path d="M326 590L335.1 586.7" fill="none" stroke="#000" stroke-width="1.9" stroke-linejoin="round"/>
<path d="M326.6 592.6L335.6 589.4" fill="none" stroke="#000" stroke-width="1.9" stroke-linejoin="round"/>
<path d="M334.3 560L351 546.7L362.7 574.2" fill="none" stroke="#000" stroke-width="1.9" stroke-linejoin="round"/>
<path d="M334.3 560L341 560L351 547.8" fill="none" stroke="#000" stroke-width="1.9" stroke-linejoin="round"/>
<path d="M341 560L361.8 575" fill="none" stroke="#000" stroke-width="1.9" stroke-linejoin="round"/>
<path d="M341 560L336.8 586.7" fill="none" stroke="#000" stroke-width="1.9" stroke-linejoin="round"/>
<path d="M334.3 560L335.9 588.4" fill="none" stroke="#000" stroke-width="1.9" stroke-linejoin="round"/>
<path d="M352.6 549.2L361 570.6" fill="none" stroke="#000" stroke-width="1.9" stroke-linejoin="round"/>
<path d="M335.9 589.3L363.5 575.9L366 579.2L339.3 595.9Z" fill="none" stroke="#000" stroke-width="1.7" stroke-linejoin="round"/>
<!-- part_side -->
<path d="M60.9 428H78.4M86.8 428H95.1M102.6 428H121.8" fill="none" stroke="#000" stroke-width="2" />
<path d="M39.4 424.6H60.6V431.8H39.4Z" fill="#fff" stroke="#000" stroke-width="2" />
<path d="M39 421.8Q34 424 34 428.4Q34 433 39 435.2Z" fill="#fff" stroke="#000" stroke-width="2" stroke-linejoin="round"/>
<path d="M420.3 432H441.7M448.5 432H456M463 432H486" fill="none" stroke="#000" stroke-width="2" />
<path d="M494 427.6H487.4V436.2H494M497.6 427.6H500.4M497.6 436.2H500.4M503 427.6H507M503 436.2H507" fill="none" stroke="#000" stroke-width="2.2" />
<path d="M507.4 424.6Q513.6 427 513.6 431.9Q513.6 436.8 507.4 439.2" fill="none" stroke="#000" stroke-width="2.2" />
<path d="M507.6 424V427.6M507.6 436.2V439.8" fill="none" stroke="#000" stroke-width="2.4" />
<path d="M494.9 466.5V510.8" fill="none" stroke="#000" stroke-width="1.9" />
<path d="M537.4 420.6C534.2 421.6 532.4 429 532.4 437.4C532.4 446.8 535.2 454.4 538.6 454.4C542 454.4 544.6 446.8 544.6 437.4C544.6 431 543.6 426 542.2 422.6" fill="none" stroke="#000" stroke-width="1.8" />
<path d="M540 426L542.2 421.2L545 425.6" fill="none" stroke="#000" stroke-width="1.6" />
<path d="M534.4 435.7L538 434.2L542.5 434.8H565V436.8H542.5L538 437.4Z" fill="#ddd" stroke="#333" stroke-width="0.8" />
<path d="M572 432.6H568.6Q564.8 433.2 564.8 435.7Q564.8 438.4 568.6 439H572Z" fill="#fff" stroke="#000" stroke-width="1.1" />
<path d="M572 431.6H584V439.8H572Z" fill="#fff" stroke="#000" stroke-width="1.3" />
<path d="M573.4 432V439.4" fill="none" stroke="#000" stroke-width="2.2" />
<path d="M578.2 432V439.4" fill="none" stroke="#000" stroke-width="1.4" />
<path d="M584 433.2H589V438.4H584" fill="none" stroke="#000" stroke-width="1.1" />
<path d="M592.6 428.8Q589 428.8 589 432V439.6Q589 442.8 592.6 442.8H607.6Q613.2 442.8 613.2 435.8Q613.2 428.8 607.6 428.8Z" fill="#fff" stroke="#000" stroke-width="1.5" />
<path d="M593.4 430.4H607.4Q610.6 430.4 610.8 435.8Q610.6 441.2 607.4 441.2H593.4Z" fill="#1a1a1a" stroke="#000" stroke-width="0.6" />
<path d="M594.4 433.6H609.4M594.4 437.8H609.4" fill="none" stroke="#8a8a8a" stroke-width="1.1" />
</svg>
</body></html>
